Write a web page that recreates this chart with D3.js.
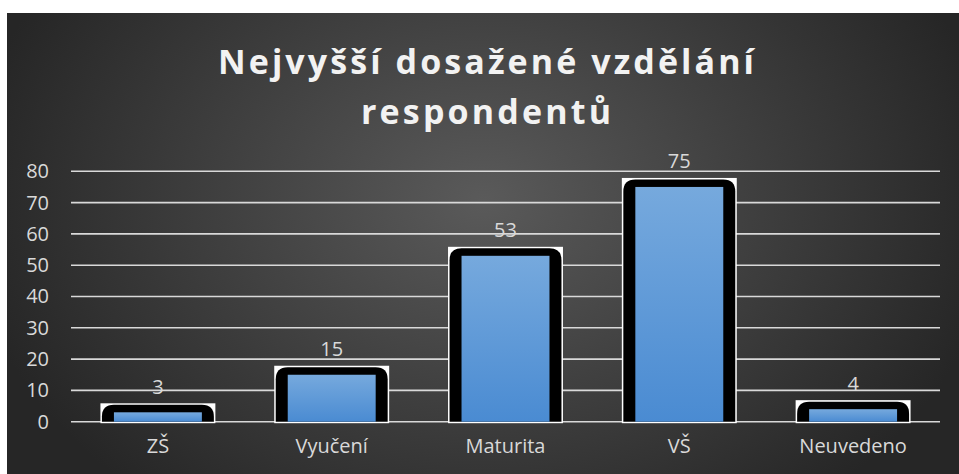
<!DOCTYPE html>
<html>
<head>
<meta charset="utf-8">
<script src="https://cdn.jsdelivr.net/npm/d3@7"></script>
<style>
  html, body { margin: 0; padding: 0; background: #fff; }
  svg { display: block; }
</style>
</head>
<body>
<script>
const categories = ["ZŠ", "Vyučení", "Maturita", "VŠ", "Neuvedeno"];
const values = [3, 15, 53, 75, 4];
const yTicks = [0, 10, 20, 30, 40, 50, 60, 70, 80];
const titleLines = ["Nejvyšší dosažené vzdělání", "respondentů"];

const width = 959, height = 474;
const font = "'Open Sans', sans-serif";

const svg = d3.select("body").append("svg")
  .attr("width", width)
  .attr("height", height);

const defs = svg.append("defs");

const bg = defs.append("radialGradient")
  .attr("id", "bg")
  .attr("gradientUnits", "userSpaceOnUse")
  .attr("cx", 483).attr("cy", 200).attr("r", 520)
  .attr("gradientTransform", "translate(483,200) scale(1,0.75) translate(-483,-200)");
bg.append("stop").attr("offset", "0%").attr("stop-color", "#5a5a5a");
bg.append("stop").attr("offset", "100%").attr("stop-color", "#262626");

const barGrad = defs.append("linearGradient")
  .attr("id", "bar")
  .attr("x1", 0).attr("y1", 0).attr("x2", 0).attr("y2", 1);
barGrad.append("stop").attr("offset", "0%").attr("stop-color", "#76a9dd");
barGrad.append("stop").attr("offset", "100%").attr("stop-color", "#4a8bd2");

// chart area (white margin at top/left as in the reference)
svg.append("rect")
  .attr("x", 7).attr("y", 13)
  .attr("width", width - 7).attr("height", height - 13)
  .attr("fill", "url(#bg)");

// title
svg.append("g")
  .selectAll("text")
  .data(titleLines)
  .join("text")
    .attr("x", 486)
    .attr("y", (d, i) => 74 + i * 50)
    .attr("text-anchor", "middle")
    .attr("font-family", font)
    .attr("font-weight", 700)
    .attr("font-size", 34)
    .attr("fill", "#f2f2f2")
    .attr("textLength", (d, i) => i === 0 ? 536 : 250)
    .attr("lengthAdjust", "spacing")
    .text(d => d);

const x = d3.scaleBand()
  .domain(categories)
  .range([71, 940])
  .paddingInner(0.494)
  .paddingOuter(0.247);

const y = d3.scaleLinear()
  .domain([0, 80])
  .range([421.7, 171.3]);

// gridlines
svg.append("g")
  .selectAll("line")
  .data(yTicks)
  .join("line")
    .attr("x1", 71).attr("x2", 940)
    .attr("y1", d => y(d)).attr("y2", d => y(d))
    .attr("stroke", "#d9d9d9")
    .attr("stroke-width", 1.6);

// y axis labels
const yAxis = svg.append("g")
  .attr("transform", "translate(49,0)")
  .call(d3.axisLeft(y).tickValues(yTicks).tickSize(0).tickPadding(0));
yAxis.select(".domain").remove();
yAxis.selectAll("text")
  .attr("font-family", font)
  .attr("font-size", 20)
  .attr("fill", "#d9d9d9");

// x axis labels
const xAxis = svg.append("g")
  .attr("transform", `translate(0,${y(0)})`)
  .call(d3.axisBottom(x).tickSize(0).tickPadding(17));
xAxis.select(".domain").remove();
xAxis.selectAll("text")
  .attr("font-family", font)
  .attr("font-size", 20)
  .attr("fill", "#d9d9d9");

// bars: white box, black rounded frame, blue fill
const bars = svg.append("g")
  .selectAll("g")
  .data(categories.map((c, i) => ({ c, v: values[i] })))
  .join("g");

bars.append("rect")
  .attr("x", d => x(d.c) - 13.5)
  .attr("y", d => y(d.v) - 9)
  .attr("width", x.bandwidth() + 27)
  .attr("height", d => y(0) - y(d.v) + 10.5)
  .attr("fill", "#ffffff");

bars.append("path")
  .attr("fill", "#000")
  .attr("d", d => {
    const x0 = x(d.c) - 12, x1 = x(d.c) + x.bandwidth() + 12;
    const y0 = y(d.v) - 7.5, y1 = y(0);
    const r = Math.min(12, (y1 - y0));
    return `M${x0},${y1}V${y0 + r}Q${x0},${y0} ${x0 + r},${y0}H${x1 - r}Q${x1},${y0} ${x1},${y0 + r}V${y1}Z`;
  });

bars.append("rect")
  .attr("x", d => x(d.c))
  .attr("y", d => y(d.v))
  .attr("width", x.bandwidth())
  .attr("height", d => y(0) - y(d.v))
  .attr("fill", "url(#bar)");

// value labels
bars.append("text")
  .attr("x", d => x(d.c) + x.bandwidth() / 2)
  .attr("y", d => y(d.v) - 18.5)
  .attr("text-anchor", "middle")
  .attr("font-family", font)
  .attr("font-size", 20)
  .attr("fill", "#d9d9d9")
  .text(d => d.v);
</script>
</body>
</html>
